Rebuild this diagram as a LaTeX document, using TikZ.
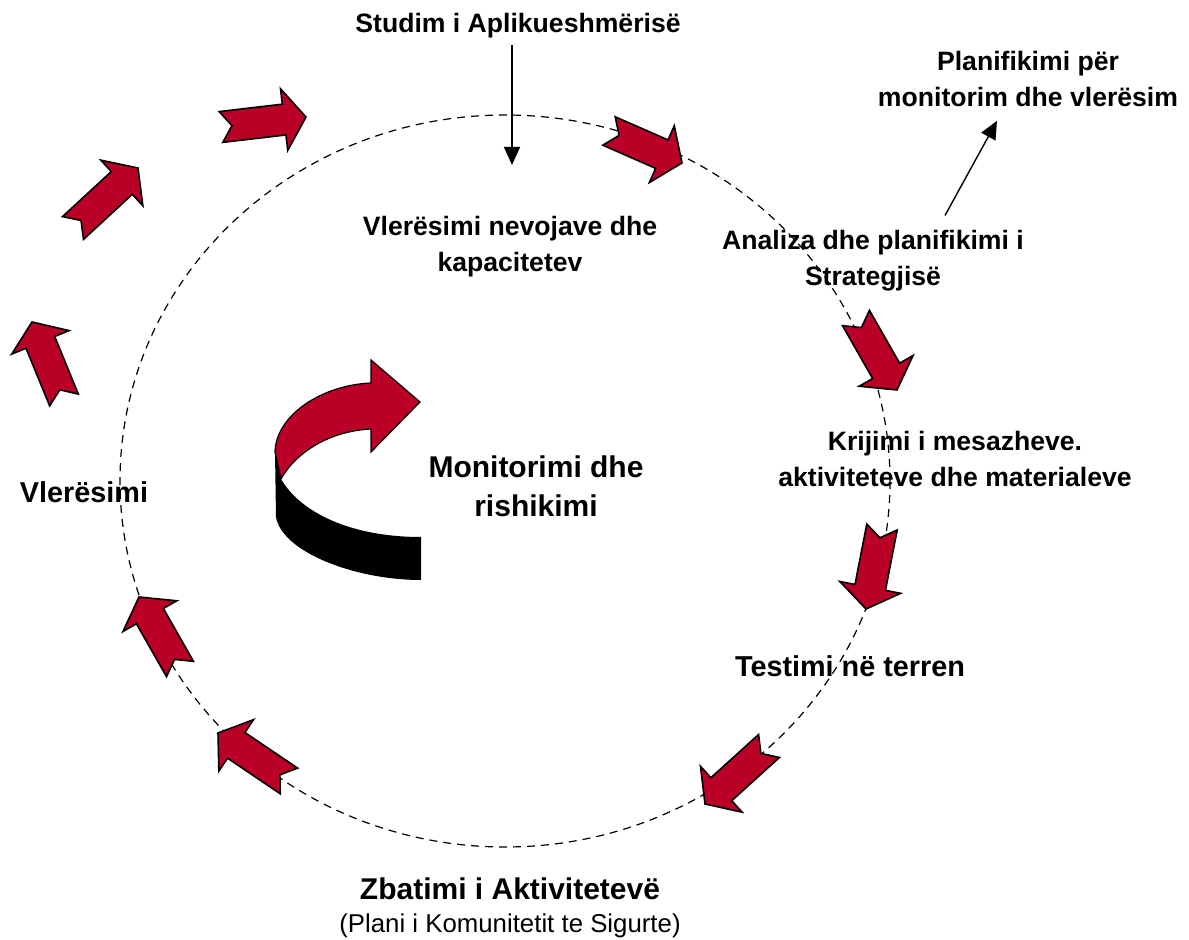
\documentclass[tikz,border=0pt]{standalone}
\usepackage{fontspec}
\setmainfont{Liberation Sans}
\usetikzlibrary{arrows.meta,positioning}
\definecolor{arrowred}{RGB}{187,0,39}

\begin{document}
\begin{tikzpicture}[x=0.5pt,y=-0.5pt,
    lbl/.style={align=center, font={\fontsize{13.3}{18}\selectfont\bfseries}},
    biglbl/.style={align=center, font={\fontsize{14.4}{19.5}\selectfont\bfseries}},
    redarrow/.style={fill=arrowred, draw=black, line width=0.8pt, line join=miter},
    pointer/.style={line width=0.7pt, -{Triangle[length=9pt,width=8pt]}}]
  \useasboundingbox (0,0) rectangle (1189,940);
  % dashed cycle
  \draw[dash pattern=on 4pt off 3pt, line width=0.6pt] (505,481) ellipse [x radius=385, y radius=366];
  % block arrows round the cycle (tail x/y, tip x/y)
  \foreach \sx/\sy/\tx/\ty in {609/131/682/163, 856/318/897/390, 882/527/866/609, 769/746/705/804, 289/781/218/733, 180/669/139/597, 64/400/32/322, 73/228/138/168, 221/127/306/117} {
    \pgfmathsetmacro{\ang}{atan2(\sy-\ty,\tx-\sx)}
    \pgfmathsetmacro{\len}{veclen(\tx-\sx,\ty-\sy)}
    \draw[redarrow, shift={(\sx,\sy)}, rotate=\ang] (0,15.5) -- ({\len-22},15.5) -- ({\len-22},31) -- (\len,0) -- ({\len-22},-31) -- ({\len-22},-15.5) -- (0,-15.5) -- (11,0) -- cycle;
  }
  % centre arrow
  \fill[black] (275,452) -- (276,517) .. controls (282,552) and (355,580) .. (421,580) -- (421,537) .. controls (350,537) and (300,512) .. (281,479) -- cycle;
  \draw[redarrow, line width=0.6pt] (275,452) .. controls (276,415) and (322,385) .. (371,383) -- (371,360) -- (420,402) -- (371,452) -- (371,429) .. controls (330,431) and (296,452) .. (281,479) -- cycle;
  % labels
  \node[lbl] (studim) at (518,26) {Studim i Aplikueshmërisë};
  \node[lbl] (nevojave) at (510,247) {Vlerësimi nevojave dhe\\kapacitetev};
  \node[lbl] (analiza) at (873,261) {Analiza dhe planifikimi i\\Strategjisë};
  \node[lbl] (planif) at (1028,79) {Planifikimi për\\monitorim dhe vlerësim};
  \node[lbl] (krijimi) at (955,459) {Krijimi i mesazheve.\\aktiviteteve dhe materialeve};
  \node[biglbl] (testimi) at (850,666) {Testimi në terren};
  \node[biglbl] (vleresimi) at (84,492) {Vlerësimi};
  \node[biglbl, font={\fontsize{15}{19.5}\selectfont\bfseries}] (monitor) at (536,486) {Monitorimi dhe\\rishikimi};
  \node[biglbl, font={\fontsize{15}{19.5}\selectfont\bfseries}] (zbatimi) at (510,889) {Zbatimi i Aktivitetevë};
  \node[font={\fontsize{12.9}{16}\selectfont}, below=0pt of zbatimi] (plani) {(Plani i Komunitetit te Sigurte)};
  % connectors
  \coordinate (need) at (512,165);
  \draw[pointer] ([xshift=-3pt]studim.south) -- (need);
  \draw[pointer] ([xshift=36pt,yshift=4pt]analiza.north) -- ([xshift=-15.5pt,yshift=-3.5pt]planif.south);
\end{tikzpicture}
\end{document}
